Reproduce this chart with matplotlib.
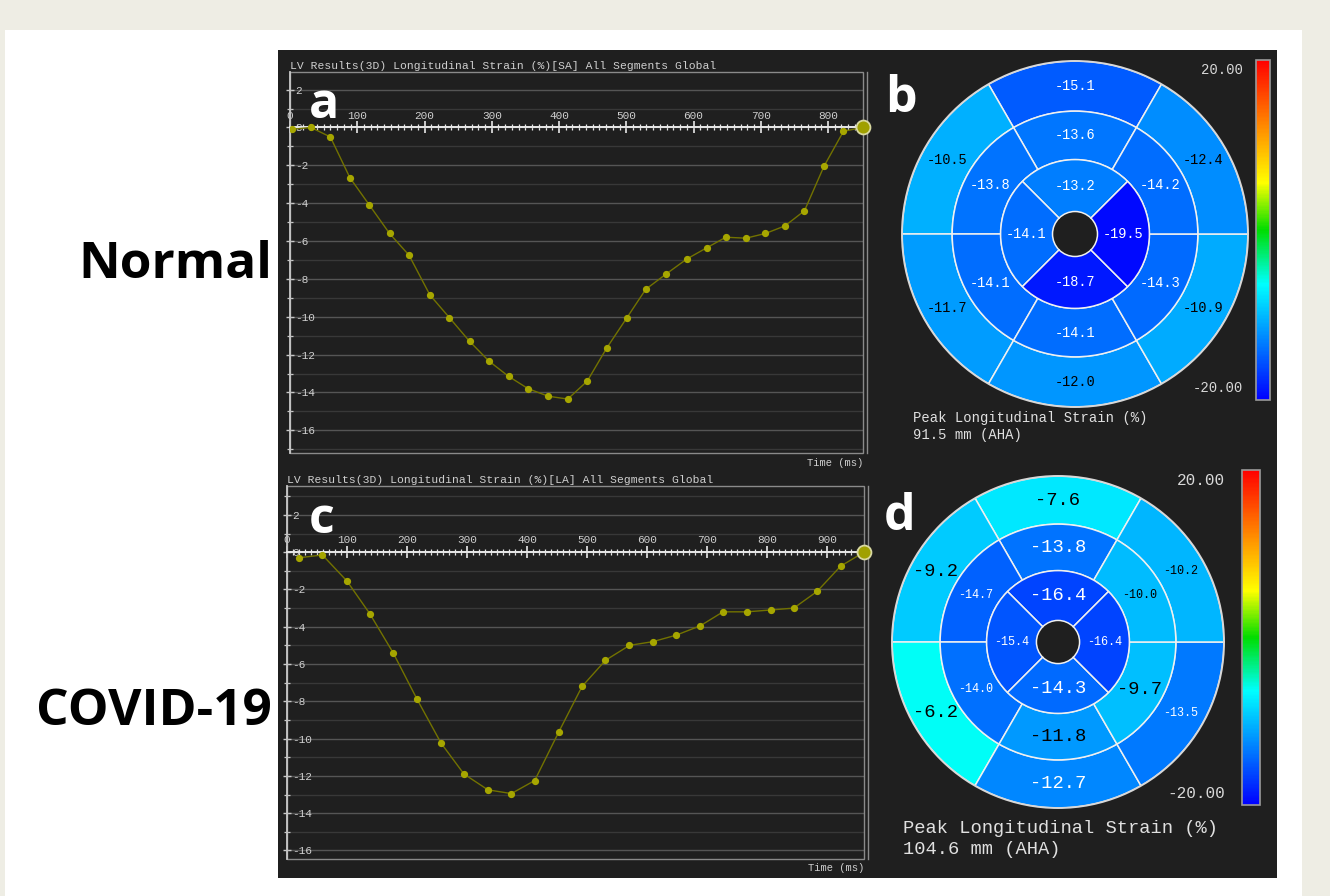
import numpy as np
import matplotlib
matplotlib.use('Agg')
import matplotlib.pyplot as plt
from matplotlib.colors import LinearSegmentedColormap, Normalize
from matplotlib.patches import Rectangle
from matplotlib.lines import Line2D
from matplotlib.ticker import MultipleLocator
import matplotlib.colorbar as mcolorbar

plt.rcParams['axes.unicode_minus'] = False

# global longitudinal strain curves (time in ms, strain in %)
time_normal = [3, 31, 60, 89, 118, 148, 177, 208, 237, 267, 296, 325, 354, 384, 413,
               442, 471, 501, 529, 559, 590, 620, 648, 678, 707, 736, 765, 794, 823, 852]
strain_normal = [-0.1, 0.0, -0.5, -2.65, -4.1, -5.6, -6.75, -8.85, -10.05, -11.3, -12.35,
                 -13.15, -13.8, -14.2, -14.35, -13.4, -11.65, -10.05, -8.55, -7.75, -6.95,
                 -6.35, -5.8, -5.85, -5.6, -5.2, -4.4, -2.05, -0.2, 0.0]

time_covid = [20, 59, 100, 138, 177, 217, 257, 295, 335, 374, 413, 453, 492, 531, 571,
              610, 649, 689, 727, 767, 807, 845, 884, 923, 962]
strain_covid = [-0.3, -0.15, -1.55, -3.3, -5.4, -7.9, -10.25, -11.9, -12.75, -12.95, -12.25,
                -9.65, -7.2, -5.8, -5.0, -4.8, -4.45, -3.95, -3.2, -3.2, -3.1, -3.0, -2.1,
                -0.75, 0.0]

# bull's eye peak strain, counter-clockwise starting at the top segment
basal_normal = [-15.1, -10.5, -11.7, -12.0, -10.9, -12.4]
mid_normal = [-13.6, -13.8, -14.1, -14.1, -14.3, -14.2]
apical_normal = [-13.2, -14.1, -18.7, -19.5]

basal_covid = [-7.6, -9.2, -6.2, -12.7, -13.5, -10.2]
mid_covid = [-13.8, -14.7, -14.0, -11.8, -9.7, -10.0]
apical_covid = [-16.4, -15.4, -14.3, -16.4]

# which labels are printed large in panel d (same order as above)
big_basal_covid = [1, 1, 1, 1, 0, 0]
big_mid_covid = [1, 0, 0, 1, 1, 0]
big_apical_covid = [1, 0, 1, 0]

W, H = 1330, 896
DARK = '#1f1f1f'
MONO = 'Liberation Mono'

cmap = LinearSegmentedColormap.from_list('strain', [
    (0.0, '#0000ff'), (0.34, '#00ffff'), (0.5, '#00dd00'),
    (0.64, '#ffff00'), (0.82, '#ff8000'), (1.0, '#ff0000')])
norm = Normalize(-20, 20)


def px(x0, y0, x1, y1):
    # pixel box (top-left origin) -> figure rect
    return [x0 / W, 1 - y1 / H, (x1 - x0) / W, (y1 - y0) / H]


fig = plt.figure(figsize=(W / 100, H / 100), dpi=100, facecolor='#eeede4')
fig.patches.append(Rectangle((5 / W, 0), 1297 / W, 866 / H, transform=fig.transFigure,
                             facecolor='white', edgecolor='none', zorder=-2))
fig.patches.append(Rectangle((278 / W, 1 - 878 / H), 999 / W, 828 / H, transform=fig.transFigure,
                             facecolor=DARK, edgecolor='none', zorder=-1))


def strain_curve(rect, t, s, xmax, ylim, title, title_y):
    ax = fig.add_axes(rect)
    ax.set_facecolor('none')
    ax.set_xlim(0, xmax)
    ax.set_ylim(*ylim)

    ax.yaxis.set_major_locator(MultipleLocator(2))
    ax.yaxis.set_minor_locator(MultipleLocator(1))
    ax.xaxis.set_major_locator(MultipleLocator(100))
    ax.xaxis.set_minor_locator(MultipleLocator(10))
    ax.grid(axis='y', which='major', color='#555555', lw=1.0)
    ax.grid(axis='y', which='minor', color='#383838', lw=1.0)
    ax.set_axisbelow(True)

    # time axis sits on strain = 0, labels above it
    ax.xaxis.set_ticks_position('top')
    ax.spines['top'].set_position(('data', 0))
    ax.spines['top'].set_color('#e8e8e8')
    ax.spines['top'].set_linewidth(1.4)
    ax.spines['bottom'].set_visible(False)
    ax.spines['right'].set_visible(False)
    ax.spines['left'].set_color('#c8c8c8')
    ax.spines['left'].set_linewidth(1.3)
    ax.tick_params(axis='x', which='major', direction='inout', length=8, width=1.2,
                   colors='#e8e8e8', labelcolor='#cfcfcf', labelsize=8, pad=1)
    ax.tick_params(axis='x', which='minor', direction='inout', length=5, width=0.9,
                   colors='#e8e8e8')
    ax.tick_params(axis='y', which='major', direction='inout', length=6, width=1.0,
                   colors='#c8c8c8', labelcolor='#cfcfcf', labelsize=8, pad=-7)
    ax.tick_params(axis='y', which='minor', direction='inout', length=4, width=0.9,
                   colors='#c8c8c8')
    for lab in ax.get_xticklabels() + ax.get_yticklabels():
        lab.set_family(MONO)
    for lab in ax.get_yticklabels():
        lab.set_horizontalalignment('left')

    # frame with doubled right edge
    ax.add_patch(Rectangle((0, 0), 1, 1, transform=ax.transAxes, fill=False,
                           edgecolor='#8a8a8a', lw=1.0, clip_on=False, zorder=1))
    ax.add_line(Line2D([1.007, 1.007], [0, 1], transform=ax.transAxes, color='#8a8a8a',
                       lw=1.0, clip_on=False))

    ax.plot(t, s, color='#727200', lw=1.0, zorder=3)
    ax.plot(t[:-1], s[:-1], 'o', ms=4.2, color='#a6a600', zorder=4)
    ax.plot(t[-1], s[-1], 'o', ms=10, mfc='#a0a000', mec='#d8d8a0', mew=1.3,
            zorder=5, clip_on=False)

    ax.text(0, 1 + title_y, title, transform=ax.transAxes, ha='left', va='bottom',
            family=MONO, fontsize=8.2, color='#cfcfcf')
    ax.text(1.0, -0.012, 'Time (ms)', transform=ax.transAxes, ha='right', va='top',
            family=MONO, fontsize=7.6, color='#cfcfcf')
    return ax


strain_curve(px(290, 72, 863, 453), time_normal, strain_normal, 852, (-17.2, 2.93),
             'LV Results(3D) Longitudinal Strain (%)[SA] All Segments Global', 0.003)
strain_curve(px(287, 486, 864, 859), time_covid, strain_covid, 962, (-16.46, 3.55),
             'LV Results(3D) Longitudinal Strain (%)[LA] All Segments Global', 0.003)

RINGS = [(0.71, 1.0), (0.43, 0.71), (0.13, 0.43)]


def bullseye(rect, rings, bigs, fs_small, fs_big, caption, cap_xy, cap_fs):
    ax = fig.add_axes(rect, projection='polar')
    ax.set_facecolor('none')
    ax.set_ylim(0, 1)
    ax.set_xticks([])
    ax.set_yticks([])
    ax.grid(False)
    ax.spines['polar'].set_color('#d8d8d8')
    ax.spines['polar'].set_linewidth(1.4)
    for vals, big, (r0, r1) in zip(rings, bigs, RINGS):
        n = len(vals)
        width = 2 * np.pi / n
        theta = np.deg2rad(90) + np.arange(n) * width
        ax.bar(theta, r1 - r0, width=width, bottom=r0, color=cmap(norm(np.array(vals))),
               edgecolor='#f0f0f0', linewidth=1.1, align='center')
        for th, v, b in zip(theta, vals, big):
            ax.text(th, (r0 + r1) / 2, f'{v:.1f}', ha='center', va='center', family=MONO,
                    fontsize=fs_big if b else fs_small,
                    color='black' if v > -12.5 else 'white')
    fig.text(cap_xy[0] / W, 1 - cap_xy[1] / H, caption, ha='left', va='top', family=MONO,
             fontsize=cap_fs, color='#e0e0e0', linespacing=1.3)


def colorbar(rect, lab_fs):
    cax = fig.add_axes(rect)
    cb = mcolorbar.ColorbarBase(cax, cmap=cmap, norm=norm, orientation='vertical')
    cb.set_ticks([])
    cb.outline.set_edgecolor('#9a9a9a')
    cb.outline.set_linewidth(1.2)
    cax.text(-0.95, 0.97, '20.00', transform=cax.transAxes, ha='right', va='center',
             family=MONO, fontsize=lab_fs, color='#d8d8d8')
    cax.text(-0.95, 0.035, '-20.00', transform=cax.transAxes, ha='right', va='center',
             family=MONO, fontsize=lab_fs, color='#d8d8d8')


bullseye(px(902, 61, 1248, 407), [basal_normal, mid_normal, apical_normal],
         [[0] * 6, [0] * 6, [0] * 4], 9.8, 9.8,
         'Peak Longitudinal Strain (%)\n91.5 mm (AHA)', (913, 411), 10)
colorbar(px(1256, 60, 1270, 400), 10)

bullseye(px(892, 476, 1224, 808), [basal_covid, mid_covid, apical_covid],
         [big_basal_covid, big_mid_covid, big_apical_covid], 8.5, 13.5,
         'Peak Longitudinal Strain (%)\n104.6 mm (AHA)', (903, 820), 13.5)
colorbar(px(1242, 470, 1260, 805), 11.5)

# panel letters and group labels
for letter, (x, y) in zip('abcd', [(309, 118), (885, 112), (309, 533), (884, 530)]):
    fig.text(x / W, 1 - y / H, letter, ha='left', va='baseline', fontsize=36,
             family='Open Sans', weight='bold', color='white')
fig.text(272 / W, 1 - 265 / H, 'Normal', ha='right', va='center', fontsize=37,
         family='Open Sans', weight='bold', color='black')
fig.text(272 / W, 1 - 712 / H, 'COVID-19', ha='right', va='center', fontsize=37,
         family='Open Sans', weight='bold', color='black')

fig.savefig('out.png', dpi=100, facecolor=fig.get_facecolor())
